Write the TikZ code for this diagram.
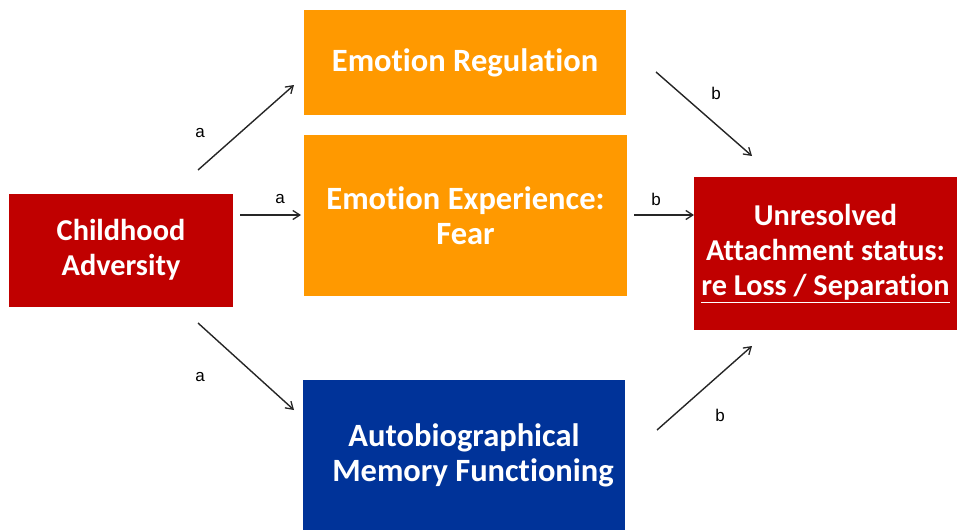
\documentclass[tikz,border=0pt]{standalone}
\usepackage{fontspec}
\setmainfont[Ligatures=NoCommon]{Carlito}
\newfontfamily\lblfont{Liberation Sans}
\usetikzlibrary{arrows.meta}
\definecolor{boxred}{HTML}{C00000}
\definecolor{boxorange}{HTML}{FF9900}
\definecolor{boxblue}{HTML}{003399}
\tikzset{
  box/.style={rectangle, inner sep=0pt, align=center, text=white,
    font=\fontsize{32.5}{35}\selectfont\bfseries},
  redbox/.style={box, fill=boxred, font=\fontsize{30.3}{35}\selectfont\bfseries},
  orangebox/.style={box, fill=boxorange},
  bluebox/.style={box, fill=boxblue},
  conn/.style={draw=black!85, line width=1.4pt, -{Straight Barb[length=7pt,width=9pt,line width=1.3pt]}},
  lbl/.style={font=\lblfont\fontsize{17}{19}\selectfont, text=black, inner sep=0pt}
}
\begin{document}
\begin{tikzpicture}[x=1pt,y=-1pt]
\useasboundingbox (0,0) rectangle (957,530);
\node[redbox, minimum width=224pt, minimum height=113pt] (cad) at (121,250) {Childhood\\Adversity};
\node[orangebox, minimum width=322pt, minimum height=105pt] (er) at (465,62.5) {Emotion Regulation};
\node[orangebox, minimum width=323pt, minimum height=161pt] (ee) at (465.5,215.5) {Emotion Experience:\\Fear};
\node[bluebox, minimum width=322pt, minimum height=150pt] (am) at (464,455) {Autobiographical\\\hspace*{18pt}Memory Functioning};
\node[redbox, minimum width=263pt, minimum height=153pt] (ur) at (825.5,253.5) {Unresolved\\Attachment status:\\\underline{re Loss / Separation}};

\coordinate (a1s) at (198,170);
\coordinate (a1e) at (294,85);
\coordinate (a2s) at (240,215);
\coordinate (a2e) at (301,215);
\coordinate (a3s) at (198,323);
\coordinate (a3e) at (294,410);
\coordinate (b1s) at (656,72);
\coordinate (b1e) at (752,156);
\coordinate (b2s) at (634,215);
\coordinate (b2e) at (694,215);
\coordinate (b3s) at (657,430);
\coordinate (b3e) at (752,346);

\draw[conn] (a1s) -- (a1e);
\draw[conn] (a2s) -- (a2e);
\draw[conn] (a3s) -- (a3e);
\draw[conn] (b1s) -- (b1e);
\draw[conn] (b2s) -- (b2e);
\draw[conn] (b3s) -- (b3e);

\node[lbl] (la1) at (200,133) {a};
\node[lbl] (la2) at (280,199) {a};
\node[lbl] (la3) at (200,377) {a};
\node[lbl] (lb1) at (716,93) {b};
\node[lbl] (lb2) at (656,199) {b};
\node[lbl] (lb3) at (720,415) {b};
\end{tikzpicture}
\end{document}
